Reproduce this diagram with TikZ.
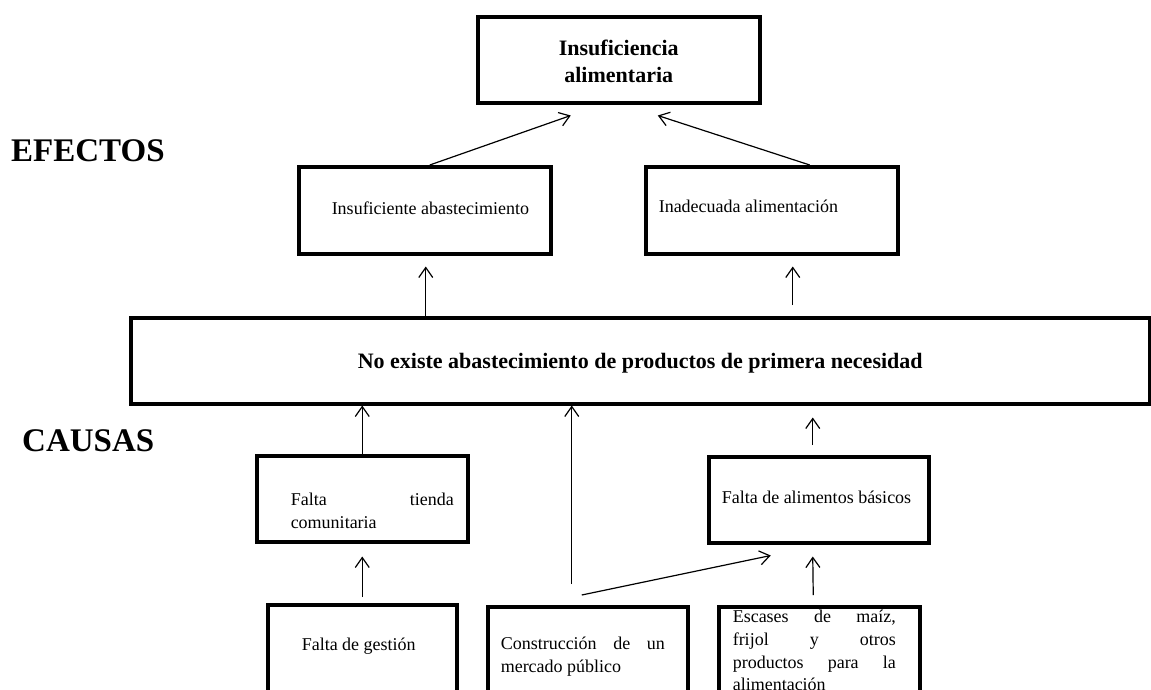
\documentclass[tikz,border=0pt]{standalone}
\usepackage{fontspec}
\setmainfont{Liberation Serif}
\usetikzlibrary{arrows.meta,calc}
\hbadness=10000 \hfuzz=100pt
% #1 box width, #2 box height, #3 left margin, #4 top gap, #5 text width, #6 text
\newcommand{\bxt}[6]{\parbox[c][#2][t]{#1}{\vspace*{#4}\hspace*{#3}\parbox[t]{#5}{\strut #6}}}
\begin{document}
\begin{tikzpicture}[x=1pt,y=-1pt,
  box/.style={draw, line width=3.5pt, inner sep=0pt, anchor=north west, line join=miter},
  normal/.style={font=\fontsize{18}{22.7}\selectfont},
  heavy/.style={font=\bfseries\fontsize{22}{27}\selectfont},
  lab/.style={font=\bfseries\fontsize{33}{36}\selectfont, inner sep=0pt, anchor=base west},
  arr/.style={-{Straight Barb[length=10pt,width=14pt,line width=1.2pt]}, line width=1.2pt}]
\useasboundingbox (0,0) rectangle (1151,689);
\fill[white] (0,0) rectangle (1151,689);
\clip (0,0) rectangle (1151,689);

\node[box, heavy] (A) at (476,15) {\bxt{282pt}{86pt}{0pt}{20.1pt}{282pt}{\centering Insuficiencia\\alimentaria}};
\node[box, normal] (B) at (297,165) {\bxt{252pt}{87pt}{33pt}{31.9pt}{215pt}{Insuficiente abastecimiento}};
\node[box, normal] (C) at (644,165) {\bxt{252pt}{87pt}{13pt}{29.9pt}{230pt}{Inadecuada alimentación}};
\node[box, heavy] (D) at (129,316) {\bxt{1019pt}{86pt}{0pt}{32.1pt}{1019pt}{\centering No existe abastecimiento de productos de primera necesidad}};
\node[box, normal] (E) at (255,454) {\bxt{211pt}{86pt}{34pt}{33.9pt}{163pt}{Falta tienda\linebreak comunitaria}};
\node[box, normal] (F) at (707,455) {\bxt{220pt}{86pt}{13pt}{30.9pt}{200pt}{Falta de alimentos básicos}};
\node[box, normal] (G) at (266,603) {\bxt{189pt}{117pt}{34pt}{29.9pt}{150pt}{Falta de gestión}};
\node[box, normal] (H) at (486,605) {\bxt{200pt}{115pt}{13pt}{26.9pt}{164pt}{Construcción de un\linebreak mercado público}};
\node[box, normal] (I) at (717,605) {\bxt{201pt}{115pt}{14pt}{0pt}{163pt}{Escases de maíz,\linebreak frijol y otros\linebreak productos para la\linebreak alimentación}};

\node[lab] (ef) at (11,161) {EFECTOS};
\node[lab] (ca) at (22,451) {CAUSAS};

% effects
\draw[arr] ($(B.north)+(5,0)$) -- ($(A.south)+(-48,11)$);
\draw[arr] ($(C.north)+(38,0)$) -- ($(A.south)+(39,11)$);
\draw[arr] ($(B.south |- D.north)+(1,0)$) -- ($(B.south)+(1,11)$);
\draw[arr] ($(C.south |- D.north)+(21,-11)$) -- ($(C.south)+(21,11)$);
% causes
\draw[arr] (E.north) -- (E.north |- D.south);
\draw[arr] ($(H.north)+(-16,-21)$) -- ($(H.north |- D.south)+(-16,0)$);
\draw[arr] ($(F.north)+(-6,-10)$) -- ($(F.north |- D.south)+(-6,12)$);
\draw[arr] ($(H.north)+(-6,-10)$) -- ($(F.south)+(-48,11)$);
\draw[arr] ($(I.north)+(-6,-10)$) -- ($(F.south)+(-6,12)$);
\draw[arr] ($(G.north)+(0,-6)$) -- ($(E.south)+(0,13)$);
\end{tikzpicture}
\end{document}
